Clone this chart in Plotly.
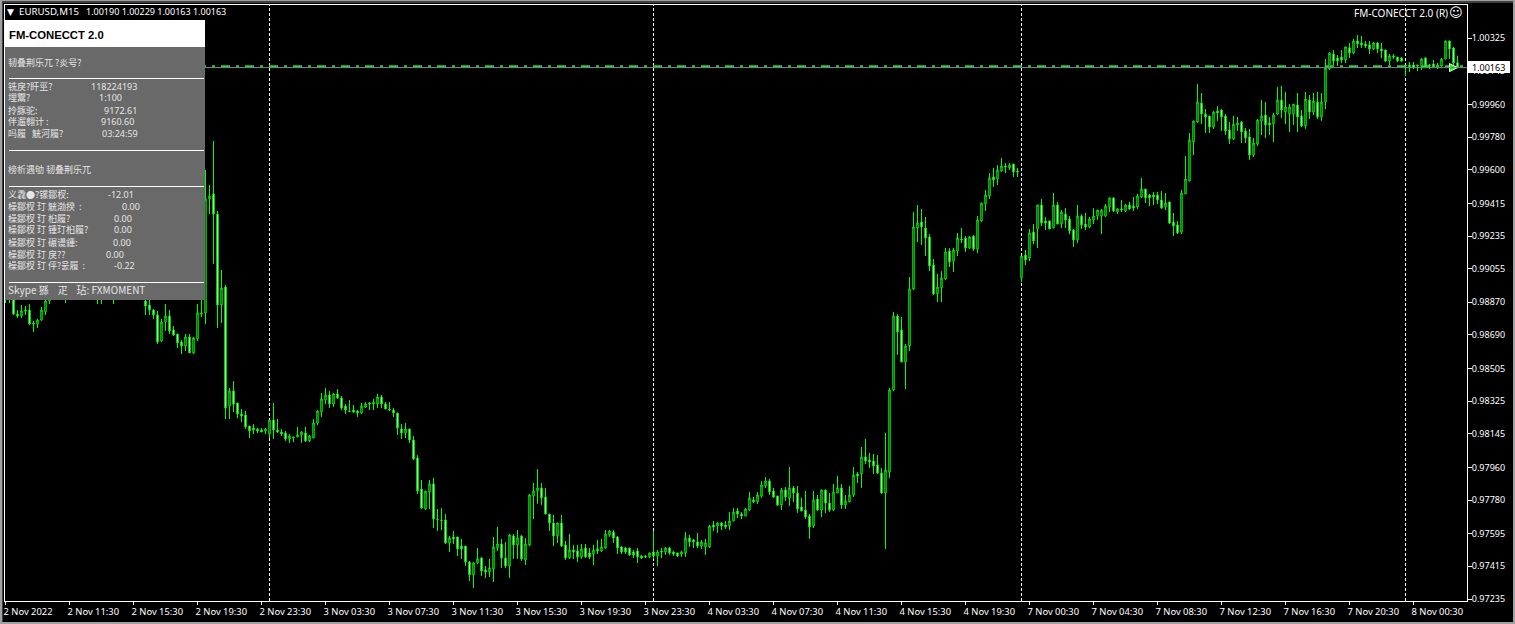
import plotly.graph_objects as go

# EURUSD M15 prices in points (1 point = 0.00001)
highs = [98987,98987,98960,98827,98855,98849,98860,98767,98778,98844,98932,98960,
99000,98976,99009,98960,99031,98987,99015,99042,98971,99004,98965,98954,98976,98993,99020,98982,99009,98971,99026,98998,98960,98943,98932,
98921,98888,98833,98822,98778,98860,98827,98739,98695,98662,98695,98695,98679,98860,98888,
99599,99516,99759,99373,99048,98965,98398,98436,98315,98282,98271,98188,98199,98177,98177,98177,98221,98315,98227,98172,
98161,98144,98128,98183,98161,98183,98139,98227,98276,98370,98398,98381,98370,98392,98354,98309,98331,98304,98276,98315,
98320,98320,98337,98365,98359,98320,98320,98287,98260,98199,98205,98172,98133,98028,97891,97830,97891,97902,97731,97736,
97703,97582,97610,97577,97566,97527,97444,97439,97516,97467,97417,97456,97577,97632,97566,97549,97593,97593,97615,97588,
97571,97814,97874,97951,97874,97847,97703,97698,97654,97698,97555,97593,97533,97533,97538,97538,97516,97533,97560,97566,
97615,97615,97615,97582,97527,97522,97516,97505,97516,97478,97478,97489,97610,97505,97516,97522,97522,97500,97489,97500,
97604,97588,97566,97599,97560,97566,97643,97665,97659,97659,97665,97714,97736,97736,97714,97736,97824,97797,97824,97885,
97907,97896,97847,97803,97847,97852,97962,97858,97858,97792,97830,97703,97830,97808,97836,97836,97819,97869,97913,97869,
97808,97858,97962,97935,98073,98117,98040,98034,98028,97957,98150,98398,98816,98805,98789,98640,99009,99367,99406,99384,
99340,99246,99108,99026,99042,99169,99169,99169,99252,99279,99235,99235,99241,99345,99417,99489,99582,99610,99626,99665,
99637,99637,99632,99610,99125,99158,99274,99301,99406,99439,99340,99318,99472,99423,99378,99389,99345,99274,99406,99356,
99362,99340,99389,99378,99384,99412,99445,99450,99389,99433,99412,99423,99450,99467,99555,99494,99467,99478,99478,99483,
99472,99423,99362,99318,99489,99676,99803,99869,100073,100023,99935,99896,99924,99951,99935,99907,99863,99896,99891,99869,
99830,99825,99775,99880,99985,99973,99891,99913,100056,100062,100029,99962,99962,100023,99929,100029,100012,100023,100029,100023,
100210,100249,100260,100232,100260,100277,100299,100321,100343,100337,100310,100310,100304,100304,100299,100260,100238,100238,100221,100221,
100177,100194,100194,100177,100216,100221,100183,100205,100188,100216,100310,100310,100277,100229]

lows = [98866,98866,98800,98783,98783,98800,98745,98706,98728,98767,98800,98860,
98899,98888,98894,98866,98904,98894,98899,98910,98888,98899,98894,98860,98860,98888,98899,98860,98894,98888,98904,98899,98888,98883,98883,
98800,98800,98778,98640,98651,98712,98695,98684,98618,98585,98602,98591,98585,98657,98789,
98750,99356,99081,98728,98756,98227,98227,98265,98232,98210,98172,98122,98144,98150,98155,98144,98122,98117,98150,98133,
98106,98095,98100,98128,98095,98100,98100,98122,98194,98238,98309,98287,98293,98337,98276,98254,98265,98260,98238,98254,
98287,98276,98276,98287,98287,98282,98271,98238,98139,98117,98122,98095,98001,97814,97731,97725,97731,97626,97610,97615,
97538,97494,97538,97472,97456,97417,97334,97296,97428,97362,97351,97356,97329,97500,97406,97406,97351,97456,97456,97444,
97422,97527,97676,97759,97753,97703,97610,97527,97544,97522,97450,97456,97456,97439,97456,97461,97456,97422,97483,97494,
97511,97577,97544,97483,97483,97483,97472,97461,97433,97456,97461,97461,97456,97417,97461,97478,97478,97472,97467,97467,
97467,97522,97516,97516,97511,97478,97516,97610,97599,97615,97621,97615,97665,97681,97676,97692,97720,97764,97759,97792,
97847,97808,97792,97748,97725,97775,97748,97770,97709,97720,97676,97566,97626,97720,97687,97709,97714,97720,97819,97731,
97731,97770,97797,97874,97847,97979,97957,97924,97924,97814,97511,97902,98381,98580,98541,98392,98602,98938,99202,99186,
99125,99042,98910,98871,98871,98993,99064,99037,99125,99197,99147,99163,99153,99141,99312,99373,99439,99505,99516,99588,
99582,99599,99560,99560,98982,99075,99097,99191,99169,99290,99268,99274,99279,99301,99279,99279,99246,99175,99197,99274,
99268,99279,99301,99323,99246,99340,99367,99367,99356,99367,99367,99378,99373,99384,99445,99417,99400,99406,99412,99384,
99378,99301,99235,99246,99246,99467,99538,99681,99858,99852,99803,99803,99825,99869,99814,99792,99742,99764,99814,99748,
99748,99654,99670,99731,99792,99775,99792,99753,99902,99885,99852,99808,99847,99808,99836,99825,99880,99902,99880,99869,
99935,100150,100177,100172,100188,100188,100216,100238,100271,100271,100271,100238,100260,100243,100216,100194,100177,100210,100194,100194,
100117,100139,100155,100144,100150,100166,100155,100161,100155,100166,100210,100210,100166,100163]

opens = [98960,98904,98932,98805,98794,98827,98827,98756,98750,98772,98816,98877,
98960,98932,98982,98932,98921,98965,98921,98943,98949,98921,98943,98904,98954,98921,98932,98954,98926,98954,98937,98976,98937,98921,98910,
98877,98855,98827,98800,98657,98761,98794,98717,98695,98651,98629,98679,98591,98668,98805,
98811,99439,99467,99356,98855,98954,98298,98381,98315,98254,98249,98188,98177,98172,98166,98161,98144,98221,98166,98155,
98150,98117,98128,98128,98139,98150,98106,98122,98205,98265,98331,98359,98309,98365,98343,98298,98271,98276,98271,98260,
98293,98315,98309,98309,98348,98309,98282,98276,98260,98172,98150,98172,98111,98012,97841,97731,97825,97869,97676,97670,
97670,97544,97577,97577,97527,97527,97439,97368,97434,97461,97395,97384,97400,97516,97538,97461,97417,97582,97533,97582,
97450,97533,97803,97830,97847,97797,97703,97654,97582,97654,97533,97461,97505,97500,97467,97516,97489,97483,97511,97500,
97516,97588,97604,97577,97522,97516,97516,97494,97500,97472,97472,97467,97494,97472,97500,97494,97516,97494,97489,97483,
97489,97571,97560,97549,97527,97522,97522,97643,97637,97654,97643,97637,97665,97720,97703,97692,97725,97781,97770,97803,
97858,97885,97830,97803,97753,97836,97792,97847,97819,97742,97725,97692,97637,97786,97725,97836,97764,97725,97819,97847,
97753,97770,97808,97924,97924,98018,98001,97995,97973,97929,97819,97935,98387,98794,98717,98541,98629,98943,99279,99312,
99279,99230,99075,98916,98949,98998,99153,99097,99153,99219,99224,99169,99235,99163,99318,99412,99456,99560,99549,99593,
99621,99610,99632,99593,99004,99130,99114,99257,99274,99406,99318,99318,99279,99406,99301,99356,99329,99268,99213,99345,
99301,99285,99323,99345,99345,99345,99395,99445,99367,99384,99373,99406,99400,99395,99450,99494,99461,99461,99461,99434,
99395,99423,99312,99296,99257,99467,99538,99753,99863,99968,99907,99896,99836,99924,99929,99896,99819,99770,99847,99863,
99814,99781,99681,99742,99869,99902,99858,99852,99907,99984,99918,99907,99907,99957,99896,99841,99984,99918,99973,99891,
99974,100155,100238,100216,100221,100205,100271,100243,100310,100299,100293,100288,100266,100299,100266,100260,100199,100227,100221,100216,
100177,100177,100177,100177,100172,100216,100177,100183,100161,100172,100210,100310,100271,100190]

closes = [98904,98960,98805,98794,98822,98822,98750,98750,98772,98827,98877,98932,
98932,98954,98921,98904,99009,98932,98993,99015,98915,98982,98921,98937,98910,98971,98998,98926,98987,98921,99004,98926,98915,98904,98894,
98849,98827,98800,98651,98761,98794,98712,98690,98646,98629,98679,98591,98673,98811,98811,
99439,99456,99356,98855,98949,98287,98381,98309,98254,98243,98183,98161,98166,98161,98155,98172,98221,98166,98155,98144,
98117,98133,98124,98139,98155,98106,98133,98205,98271,98337,98359,98309,98365,98343,98287,98276,98268,98265,98260,98298,
98309,98309,98320,98348,98309,98282,98276,98260,98177,98150,98172,98111,98006,97830,97736,97830,97869,97676,97673,97667,
97544,97571,97566,97511,97511,97439,97368,97434,97456,97389,97384,97406,97522,97538,97461,97417,97588,97533,97571,97456,
97538,97808,97830,97847,97792,97703,97654,97582,97654,97527,97461,97505,97494,97467,97511,97467,97467,97505,97500,97522,
97593,97610,97571,97516,97494,97494,97478,97478,97467,97461,97467,97489,97472,97494,97494,97516,97489,97483,97472,97494,
97571,97549,97549,97527,97549,97544,97637,97632,97654,97637,97632,97665,97714,97703,97692,97731,97792,97770,97808,97863,
97885,97825,97797,97753,97836,97797,97847,97819,97731,97720,97687,97632,97781,97725,97836,97764,97725,97825,97847,97753,
97775,97808,97918,97913,98018,97995,97990,97968,97929,97819,97946,98387,98794,98706,98541,98629,98943,99285,99307,99285,
99224,99070,98916,98954,99004,99147,99092,99158,99224,99213,99169,99230,99163,99323,99417,99461,99555,99544,99599,99621,
99615,99626,99588,99588,99125,99103,99252,99208,99406,99307,99307,99274,99406,99301,99367,99323,99263,99213,99345,99296,
99285,99329,99345,99378,99378,99400,99445,99373,99384,99378,99406,99384,99389,99456,99494,99445,99445,99450,99434,99389,
99417,99307,99290,99252,99472,99549,99764,99869,99974,99907,99891,99836,99918,99913,99891,99814,99770,99852,99858,99808,
99775,99681,99748,99874,99896,99847,99847,99902,99984,99929,99946,99946,99962,99891,99841,99990,99918,99979,99891,99974,
100161,100243,100199,100199,100205,100277,100243,100310,100293,100288,100282,100266,100299,100266,100255,100199,100227,100221,100199,100199,
100172,100166,100161,100172,100210,100172,100172,100166,100177,100210,100310,100266,100188,100163]

x_tick_labels = ["2 Nov 2022","2 Nov 11:30","2 Nov 15:30","2 Nov 19:30","2 Nov 23:30","3 Nov 03:30",
                 "3 Nov 07:30","3 Nov 11:30","3 Nov 15:30","3 Nov 19:30","3 Nov 23:30","4 Nov 03:30",
                 "4 Nov 07:30","4 Nov 11:30","4 Nov 15:30","4 Nov 19:30","7 Nov 00:30","7 Nov 04:30",
                 "7 Nov 08:30","7 Nov 12:30","7 Nov 16:30","7 Nov 20:30","8 Nov 00:30"]
x_tick_step = 16
y_tick_prices = [1.00325,1.00145,0.99960,0.99780,0.99600,0.99415,0.99235,0.99055,0.98870,0.98690,
                 0.98505,0.98325,0.98145,0.97960,0.97780,0.97595,0.97415,0.97235]
day_separators = [66, 162, 254, 350]
last_price = 1.00163
order_price = 1.00171

n = min(len(opens), len(highs), len(lows), len(closes))
idx = list(range(n))
to_p = lambda a: [v / 1e5 for v in a[:n]]

W, H = 1515, 624
L, T, R, B = 5, 5, 1467, 601
fx = lambda px: (px - L) / (R - L)
fy = lambda py: 1 - (py - T) / (B - T)
TXT = "Noto Sans, DejaVu Sans, sans-serif"
CJK = "Noto Sans CJK SC, Noto Sans, sans-serif"
GREEN = "#00ff00"

fig = go.Figure()
fig.add_trace(go.Candlestick(
    x=idx, open=to_p(opens), high=to_p(highs), low=to_p(lows), close=to_p(closes),
    increasing=dict(line=dict(color=GREEN, width=1), fillcolor="#000000"),
    decreasing=dict(line=dict(color=GREEN, width=1), fillcolor="#ffffff"),
    whiskerwidth=0, hoverinfo="skip", showlegend=False))
fig.add_trace(go.Scatter(x=[n - 1], y=[last_price], mode="markers", hoverinfo="skip", showlegend=False,
                         marker=dict(symbol="arrow-right", size=8, color=GREEN, line=dict(color="#ffffff", width=1))))

shapes = []
for d in day_separators:
    shapes.append(dict(type="line", xref="x", yref="paper", x0=d, x1=d, y0=0, y1=1, layer="below",
                       line=dict(color="#ffffff", width=1, dash="3px,2px")))
shapes.append(dict(type="line", xref="paper", yref="y", x0=fx(197), x1=1, y0=order_price, y1=order_price,
                   layer="below", line=dict(color="#32cd32", width=2, dash="9px,6px,3px,6px")))
shapes.append(dict(type="line", xref="paper", yref="y", x0=0, x1=1, y0=last_price, y1=last_price,
                   layer="above", line=dict(color="#778899", width=1)))
# information panel
def rect(x0, y0, x1, y1, color):
    shapes.append(dict(type="rect", xref="paper", yref="paper", x0=fx(x0), x1=fx(x1), y0=fy(y0), y1=fy(y1),
                       fillcolor=color, line=dict(width=0), layer="above"))
rect(5, 20, 205, 47, "#ffffff")
rect(5, 47, 205, 300, "#696969")
for py in (78, 150, 186, 282):
    rect(9, py, 204, py + 1, "#ffffff")
rect(1468, 61, 1510, 73, "#ffffff")
# window edges
rect(0, 0, 2, H, "#a0a0a0")
rect(2, 0, 3, H, "#404040")
rect(1513, 0, W, H, "#a0a0a0")
rect(0, 622, W, H, "#a0a0a0")
rect(0, 0, W, 1, "#a0a0a0")
rect(2, 1, 1513, 3, "#404040")

ann = []
def text(px, py, s, size=10, color="#ffffff", anchor="left", family=TXT, bold=False):
    ann.append(dict(xref="paper", yref="paper", x=fx(px), y=fy(py), text=("<b>%s</b>" % s) if bold else s,
                    showarrow=False, xanchor=anchor, yanchor="middle", borderpad=0, borderwidth=0,
                    font=dict(size=size, color=color, family=family)))

text(7, 12, "▼", 9)
text(19, 12, "EURUSD,M15", 9.7)
text(86, 12, "1.00190 1.00229 1.00163 1.00163", 9)
text(1448, 13, "FM-CONECCT 2.0 (R)", 10, anchor="right")
text(1449, 13, "☺", 13, family="DejaVu Sans")
text(9, 35, "FM-CONECCT 2.0", 11.3, "#000000", family="Liberation Sans", bold=True)
PANEL = "#e6e6e6"
rows = [
    (62, "韧叠荆乐兀 ?炎号?", None, None),
    (86, "铣戾?盰巠?", 91, "118224193"),
    (97, "埋鬻?", 99, "1:100"),
    (110, "拎豚驼:", 104, "9172.61"),
    (122, "伴遛翱计 :", 101, "9160.60"),
    (134, "吗履\u00a0\u00a0\u00a0觥河履?", 102, "03:24:59"),
    (170, "榜析遇劬 韧叠荆乐兀", None, None),
    (194, "义毳●?镙鄒杈:", 108, "-12.01"),
    (206, "橾鄒杈 玎 觥渤揆\u00a0\u00a0:", 122, "0.00"),
    (218, "橾鄒杈 玎 桕履?", 114, "0.00"),
    (230, "橾鄒杈 玎 锺玎桕履?", 114, "0.00"),
    (242, "橾鄒杈 玎 碾谩鍾:", 113, "0.00"),
    (254, "橾鄒杈 玎 戾??", 106, "0.00"),
    (266, "橾鄒杈 玎 伻?욼履\u00a0\u00a0:", 114, "-0.22"),
]
for py, label, nx, num in rows:
    text(8, py, label, 9, PANEL, family=CJK)
    if num:
        text(nx, py, num, 9, PANEL)
text(8, 289, "Skype 猻\u00a0\u00a0\u00a0\u00a0疋\u00a0\u00a0\u00a0\u00a0玷: FXMOMENT", 10, PANEL, family=CJK)
text(1472, 67, "1.00163", 9, "#000000")

fig.update_layout(
    width=W, height=H, margin=dict(l=L, r=W - R, t=T, b=H - B, pad=0, autoexpand=False), autosize=False,
    paper_bgcolor="#000000", plot_bgcolor="#000000", showlegend=False, boxgap=0.5,
    shapes=shapes, annotations=ann, hovermode=False,
    xaxis=dict(range=[-0.125, (R - L - 0.5) / 4], rangeslider=dict(visible=False), showgrid=False, zeroline=False,
               automargin=False,
               showline=True, mirror=True, linecolor="#ffffff", linewidth=1,
               tickmode="array", tickvals=[i * x_tick_step for i in range(len(x_tick_labels))],
               ticktext=x_tick_labels, ticks="outside", ticklen=3, tickcolor="#ffffff", tickwidth=1,
               ticklabelposition="outside right", ticklabelshift=-3, ticklabelstandoff=2, tickangle=0,
               tickfont=dict(size=9.4, color="#ffffff", family=TXT)),
    yaxis=dict(range=[(100535.5 - 5.51 * B) / 1e5, (100535.5 - 5.51 * T) / 1e5], side="right", showgrid=False, zeroline=False,
               automargin=False,
               showline=True, mirror=True, linecolor="#ffffff", linewidth=1,
               tickmode="array", tickvals=y_tick_prices, ticktext=["%.5f" % v for v in y_tick_prices],
               ticks="outside", ticklen=4, tickcolor="#ffffff", tickwidth=1, ticklabelstandoff=-2,
               tickfont=dict(size=9, color="#ffffff", family=TXT)),
)

fig.write_html("out.html", include_plotlyjs=True, config={"displayModeBar": False},
               post_script="document.body.style.margin='0';document.body.style.overflow='hidden';document.body.style.background='#000';")
